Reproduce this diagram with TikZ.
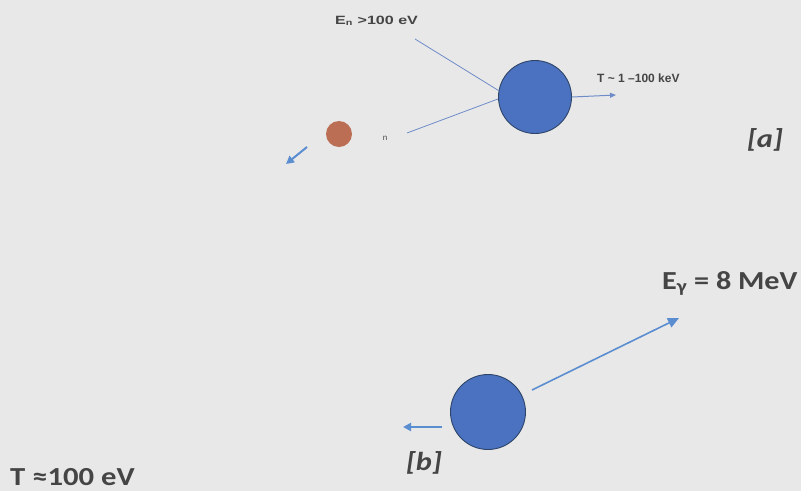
\documentclass[tikz,border=0pt]{standalone}
\usepackage{fontspec}
\setmainfont{Carlito}
\newfontfamily\arialf{Liberation Sans}
\usetikzlibrary{arrows.meta}
\definecolor{bg}{HTML}{E8E8E8}
\definecolor{ballblue}{HTML}{4A72C0}
\definecolor{balledge}{HTML}{2E4468}
\definecolor{linec}{HTML}{6F8CC8}
\definecolor{arrc}{HTML}{5B8ED0}
\definecolor{brownc}{HTML}{BC6E55}
\definecolor{txt}{HTML}{454545}
\tikzset{
  ball/.style={circle, fill=ballblue, draw=balledge, line width=0.9pt, inner sep=0pt},
  ray/.style={draw=linec, line width=0.8pt},
  arr/.style={draw=arrc, line width=1.6pt, -{Triangle[length=8pt,width=8pt]}},
  small/.style={text=txt, font=\arialf\bfseries\fontsize{12}{14}\selectfont, inner sep=0pt},
  big/.style={text=txt, font=\bfseries\fontsize{26}{30}\selectfont, inner sep=0pt},
  tag/.style={text=txt, font=\bfseries\itshape\fontsize{26}{30}\selectfont, inner sep=0pt}
}
\begin{document}
\begin{tikzpicture}[x=1pt,y=-1pt]
\fill[bg] (0,0) rectangle (801,491);
\useasboundingbox (0,0) rectangle (801,491);
% [a]
\node[ball, minimum size=73pt] (A) at (535,97) {};
\node[circle, fill=brownc, inner sep=0pt, minimum size=26pt] (N) at (339,134) {};
\coordinate (l1) at (415,39);
\coordinate (l2) at (407,133);
\draw[ray] (l1) -- (A.170);
\draw[ray] (l2) -- (A.183);
\coordinate (ta) at (616,95);
\draw[draw=linec, line width=1pt, -{Triangle[length=6pt,width=5pt]}] (A.east) -- (ta);
\coordinate (na0) at (307,147);
\coordinate (na1) at (286,164);
\draw[arr, line width=2pt] (na0) -- (na1);
\node[small, anchor=base west] (En) at (335,24) {\scalebox{1.34}[1]{E\textsubscript{n} >100 eV}};
\node[small, anchor=base west] (Tk) at (597,82) {T \textasciitilde{} 1 –100 keV};
\node[small, font=\arialf\fontsize{8}{9}\selectfont] (nl) at (385,138) {n};
\node[tag] (ta2) at (765,140) {\scalebox{1.17}[1]{[a]}};
% [b]
\node[ball, minimum size=75pt] (B) at (488,412) {};
\coordinate (g1) at (532,390);
\coordinate (g2) at (679,318);
\draw[arr, line width=1.6pt, -{Triangle[length=11pt,width=10pt]}] (g1) -- (g2);
\coordinate (r1) at (442,427);
\coordinate (r2) at (403,427);
\draw[arr, line width=2.2pt] (r1) -- (r2);
\node[big, anchor=base west] (Eg) at (662,289) {\scalebox{1.16}[1]{E\textsubscript{γ} = 8 MeV}};
\node[tag] (tb) at (424,463) {\scalebox{1.17}[1]{[b]}};
\node[big, anchor=base west] (Tb) at (10,485) {\scalebox{1.18}[1]{T ≈100 eV}};
\end{tikzpicture}
\end{document}
